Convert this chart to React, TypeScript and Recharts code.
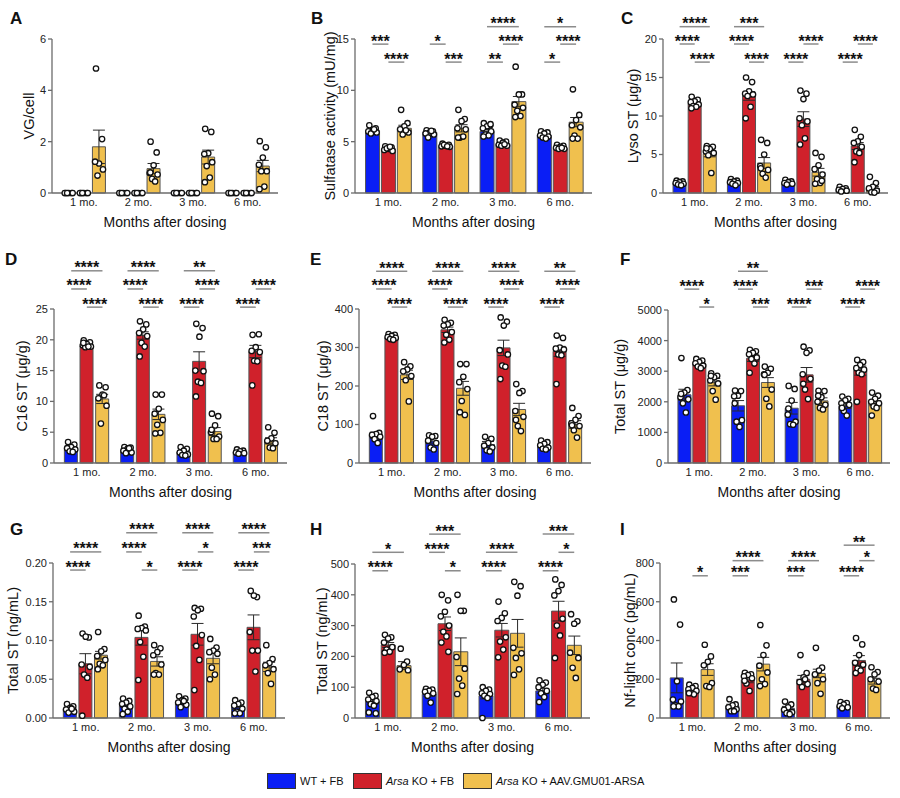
import React from "react";
import {
  ComposedChart,
  Bar,
  Cell,
  ErrorBar,
  Scatter,
  XAxis,
  YAxis,
  ReferenceLine,
} from "recharts";

const FONT = '"Liberation Sans", Arial, Helvetica, sans-serif';

const MONTHS = ["1 mo.", "2 mo.", "3 mo.", "6 mo."];
const COLORS = ["#0a1ef5", "#d0212b", "#f0c04e"];

// x layout (axis units): group centers, bars at center -1, 0, +1
const GROUP_X = [0, 3.6, 7.2, 10.8];
const X_DOMAIN = [-2.1, 12.8];
const JITTER = [-0.2, 0.2, 0, -0.26, 0.26, -0.1, 0.1, -0.22, 0.22];

// ---------- A: VG/cell ----------
const A_MEAN = [[0, 0, 1.8], [0, 0, 0.95], [0, 0, 1.4], [0, 0, 1.05]];
const A_SEM = [[0, 0, 0.65], [0, 0, 0.2], [0, 0, 0.27], [0, 0, 0.22]];
const A_DOTS = [
  [[0, 0, 0, 0, 0, 0], [0, 0, 0, 0, 0, 0], [4.85, 2.1, 1.15, 1.22, 0.92, 0.68]],
  [[0, 0, 0, 0, 0, 0], [0, 0, 0, 0, 0, 0], [2.0, 1.58, 1.08, 0.78, 0.72, 0.55, 0.45, 0.8]],
  [[0, 0, 0, 0, 0, 0], [0, 0, 0, 0, 0, 0], [2.5, 2.38, 1.55, 1.52, 1.2, 1.05, 0.6, 0.42]],
  [[0, 0, 0, 0, 0, 0], [0, 0, 0, 0, 0, 0], [2.02, 1.78, 1.38, 1.1, 0.85, 0.85, 0.25, 0.15]],
];
const A_TICKS = [0, 2, 4, 6];

// ---------- B: sulfatase activity ----------
const B_MEAN = [[6.05, 4.3, 6.3], [5.9, 4.6, 6.3], [6.0, 4.8, 8.9], [5.6, 4.35, 6.9]];
const B_SEM = [[0.12, 0.07, 0.3], [0.09, 0.05, 0.35], [0.2, 0.08, 0.5], [0.1, 0.06, 0.45]];
const B_DOTS = [
  [[6.6, 6.3, 6.1, 6.0, 5.9, 5.8, 6.2], [4.55, 4.45, 4.3, 4.2, 4.1, 4.35, 4.5], [8.1, 6.8, 6.5, 6.2, 5.9, 5.7, 6.1]],
  [[6.1, 6.0, 5.9, 5.8, 5.7, 5.4, 6.05], [4.8, 4.7, 4.6, 4.55, 4.5, 4.7, 4.55], [8.1, 7.2, 7.0, 6.3, 6.2, 5.4, 5.5, 5.4]],
  [[6.8, 6.6, 6.5, 6.3, 6.0, 5.7, 5.6, 5.5, 6.7], [5.1, 5.0, 4.9, 4.7, 4.6, 4.6, 4.75], [12.3, 9.6, 9.6, 8.6, 8.3, 8.0, 7.5, 7.4]],
  [[6.0, 5.9, 5.8, 5.6, 5.5, 5.4, 5.3], [4.7, 4.6, 4.5, 4.4, 4.3, 4.3, 4.4], [10.1, 7.6, 7.1, 6.6, 6.4, 5.6, 5.3, 5.3]],
];
const B_TICKS = [0, 5, 10, 15];
const B_LEVELS = [16.2, 14.5, 12.75];
const B_STARS = [
  [0, 0, 1, 1, "***"], [0, 1, 2, 2, "****"],
  [1, 0, 1, 1, "*"], [1, 1, 2, 2, "***"],
  [2, 0, 2, 0, "****"], [2, 1, 2, 1, "****"], [2, 0, 1, 2, "**"],
  [3, 0, 2, 0, "*"], [3, 1, 2, 1, "****"], [3, 0, 1, 2, "*"],
];

// ---------- C: Lyso ST ----------
const C_MEAN = [[1.3, 11.6, 5.1], [1.4, 12.6, 3.9], [1.3, 9.6, 2.7], [0.5, 6.1, 0.6]];
const C_SEM = [[0.1, 0.2, 0.4], [0.1, 0.55, 0.7], [0.08, 0.95, 0.5], [0.07, 0.45, 0.25]];
const C_DOTS = [
  [[1.6, 1.5, 1.4, 1.3, 1.2, 1.1, 1.0], [12.5, 12.1, 11.9, 11.8, 11.5, 11.3, 11.2, 11.0], [6.1, 6.0, 5.7, 5.4, 5.2, 4.9, 2.6, 5.8]],
  [[1.8, 1.6, 1.5, 1.4, 1.3, 1.2, 1.0], [15.0, 14.4, 13.2, 12.9, 12.8, 12.6, 11.2, 9.7], [6.9, 6.5, 5.0, 3.5, 3.0, 2.5, 2.0, 3.2]],
  [[1.7, 1.5, 1.4, 1.3, 1.2, 1.1], [13.3, 12.9, 12.2, 9.7, 9.3, 8.8, 7.1, 6.3], [5.2, 4.7, 3.6, 3.1, 2.4, 1.8, 1.3, 1.2, 1.6]],
  [[0.8, 0.6, 0.5, 0.4, 0.3, 0.2], [8.2, 7.3, 6.7, 6.5, 6.0, 5.4, 5.2, 4.0], [2.1, 1.3, 0.8, 0.6, 0.3, 0.1, 0.05]],
];
const C_TICKS = [0, 5, 10, 15, 20];
const C_LEVELS = [21.6, 19.35, 17.0];
const C_STARS = [
  [0, 0, 2, 0, "****"], [0, 0, 1, 1, "****"], [0, 1, 2, 2, "****"],
  [1, 0, 2, 0, "***"], [1, 0, 1, 1, "****"], [1, 1, 2, 2, "****"],
  [2, 1, 2, 1, "****"], [2, 0, 1, 2, "****"],
  [3, 1, 2, 1, "****"], [3, 0, 1, 2, "****"],
];

// ---------- D: C16 ST ----------
const D_MEAN = [[2.5, 19.0, 10.4], [2.1, 20.7, 7.9], [1.8, 16.5, 5.1], [1.8, 18.1, 3.6]];
const D_SEM = [[0.2, 0.15, 0.75], [0.15, 0.6, 0.85], [0.2, 1.55, 0.65], [0.1, 1.0, 0.5]];
const D_DOTS = [
  [[3.4, 3.0, 2.6, 2.4, 2.2, 1.9, 1.8], [19.9, 19.6, 19.3, 19.1, 18.9, 18.8, 18.9, 19.5], [12.6, 12.3, 11.1, 10.5, 9.3, 6.4, 11.0]],
  [[2.6, 2.5, 2.3, 2.0, 1.7, 1.6, 2.4], [23.0, 22.5, 21.7, 21.1, 20.6, 19.5, 18.9, 17.3], [11.1, 11.1, 8.8, 8.0, 7.0, 6.2, 4.9, 4.8]],
  [[2.6, 2.3, 2.0, 1.7, 1.4, 1.3, 1.2], [22.6, 21.9, 20.5, 15.0, 14.9, 13.2, 13.0, 10.8], [8.0, 7.6, 6.1, 5.0, 4.3, 3.9, 3.9, 5.4]],
  [[2.2, 2.0, 1.9, 1.7, 1.6, 1.5], [20.8, 20.9, 18.8, 18.2, 18.0, 16.6, 16.5, 12.6], [5.8, 4.9, 4.0, 3.6, 3.2, 2.5, 2.4]],
];
const D_TICKS = [0, 5, 10, 15, 20, 25];
const D_LEVELS = [31.2, 28.25, 25.3];
const D_STARS = [
  [0, 0, 2, 0, "****"], [0, 0, 1, 1, "****"], [0, 1, 2, 2, "****"],
  [1, 0, 2, 0, "****"], [1, 0, 1, 1, "****"], [1, 1, 2, 2, "****"],
  [2, 0, 2, 0, "**"], [2, 1, 2, 1, "****"], [2, 0, 1, 2, "****"],
  [3, 1, 2, 1, "****"], [3, 0, 1, 2, "****"],
];

// ---------- E: C18 ST ----------
const E_MEAN = [[72, 326, 229], [57, 346, 194], [48, 299, 139], [44, 290, 100]];
const E_SEM = [[8, 3, 12], [7, 7, 18], [8, 20, 16], [4, 13, 10]];
const E_DOTS = [
  [[122, 78, 75, 73, 68, 62, 52], [335, 333, 330, 327, 325, 322, 320], [262, 251, 243, 238, 226, 215, 160]],
  [[72, 70, 68, 58, 52, 40, 35], [372, 364, 360, 357, 340, 333, 320, 313], [257, 257, 224, 210, 192, 161, 125, 132]],
  [[68, 63, 52, 45, 40, 33, 30], [378, 367, 357, 293, 282, 253, 250, 218], [205, 187, 182, 135, 120, 96, 83, 112]],
  [[58, 54, 50, 46, 40, 37, 35], [331, 325, 300, 297, 295, 282, 280, 205], [143, 122, 112, 103, 96, 85, 66, 98]],
];
const E_TICKS = [0, 100, 200, 300, 400];
const E_LEVELS = [498, 452, 405];
const E_STARS = [
  [0, 0, 2, 0, "****"], [0, 0, 1, 1, "****"], [0, 1, 2, 2, "****"],
  [1, 0, 2, 0, "****"], [1, 0, 1, 1, "****"], [1, 1, 2, 2, "****"],
  [2, 0, 2, 0, "****"], [2, 1, 2, 1, "****"], [2, 0, 1, 2, "****"],
  [3, 0, 2, 0, "**"], [3, 1, 2, 1, "****"], [3, 0, 1, 2, "****"],
];

// ---------- F: total ST tissue ----------
const F_MEAN = [[2230, 3240, 2640], [1870, 3420, 2630], [1790, 2880, 2030], [1860, 3020, 1950]];
const F_SEM = [[180, 60, 120], [170, 100, 160], [190, 240, 100], [80, 150, 80]];
const F_DOTS = [
  [[3430, 2380, 2300, 2150, 2080, 1950, 1650, 2260], [3400, 3350, 3300, 3260, 3180, 3150, 3100], [2930, 2850, 2800, 2700, 2600, 2350, 2070, 2850]],
  [[2370, 2350, 2200, 2180, 1400, 1350, 1180, 1950], [3700, 3650, 3600, 3550, 3450, 3400, 3250, 2950], [3150, 3080, 2950, 2900, 2400, 2100, 1850, 2880]],
  [[2520, 2420, 2040, 1580, 1350, 1270, 1250, 1780], [3800, 3680, 3600, 2900, 2750, 2400, 2090, 2590], [2360, 2350, 2150, 2000, 1900, 1800, 1750, 2200]],
  [[2170, 2100, 2050, 1950, 1900, 1700, 1550, 1800], [3370, 3300, 3200, 3100, 3050, 2950, 2900, 2000], [2300, 2200, 2100, 2000, 1950, 1850, 1800, 1550]],
];
const F_TICKS = [0, 1000, 2000, 3000, 4000, 5000];
const F_LEVELS = [6266, 5682, 5097];
const F_STARS = [
  [0, 0, 1, 1, "****"], [0, 1, 2, 2, "*"],
  [1, 0, 2, 0, "**"], [1, 0, 1, 1, "****"], [1, 1, 2, 2, "***"],
  [2, 1, 2, 1, "***"], [2, 0, 1, 2, "****"],
  [3, 1, 2, 1, "****"], [3, 0, 1, 2, "****"],
];

// ---------- G: total ST ng/mL ----------
const G_MEAN = [[0.012, 0.07, 0.081], [0.016, 0.104, 0.073], [0.02, 0.108, 0.077], [0.014, 0.117, 0.066]];
const G_SEM = [[0.002, 0.013, 0.005], [0.002, 0.01, 0.006], [0.002, 0.014, 0.007], [0.003, 0.016, 0.006]];
const G_DOTS = [
  [[0.018, 0.015, 0.013, 0.011, 0.008, 0.007, 0.012], [0.109, 0.104, 0.105, 0.069, 0.066, 0.056, 0.052, 0.003], [0.111, 0.089, 0.086, 0.08, 0.075, 0.07, 0.068, 0.063]],
  [[0.025, 0.022, 0.02, 0.018, 0.015, 0.012, 0.008, 0.005], [0.132, 0.118, 0.116, 0.115, 0.113, 0.098, 0.079, 0.049], [0.094, 0.09, 0.085, 0.081, 0.069, 0.058, 0.056, 0.056]],
  [[0.028, 0.025, 0.023, 0.02, 0.017, 0.014, 0.022], [0.142, 0.141, 0.139, 0.131, 0.107, 0.093, 0.075, 0.036], [0.102, 0.091, 0.087, 0.085, 0.083, 0.065, 0.056, 0.05]],
  [[0.023, 0.02, 0.018, 0.016, 0.012, 0.008, 0.006, 0.006], [0.164, 0.156, 0.158, 0.111, 0.087, 0.087, 0.06], [0.094, 0.076, 0.071, 0.068, 0.063, 0.058, 0.044]],
];
const G_TICKS = [0, 0.05, 0.1, 0.15, 0.2];
const G_LEVELS = [0.239, 0.2143, 0.1909];
const G_STARS = [
  [0, 0, 2, 1, "****"], [0, 0, 1, 2, "****"],
  [1, 0, 2, 0, "****"], [1, 0, 1, 1, "****"], [1, 1, 2, 2, "*"],
  [2, 0, 2, 0, "****"], [2, 1, 2, 1, "*"], [2, 0, 1, 2, "****"],
  [3, 0, 2, 0, "****"], [3, 1, 2, 1, "***"], [3, 0, 1, 2, "****"],
];

// ---------- H: total ST ng/mL ----------
const H_MEAN = [[53, 237, 170], [77, 306, 215], [72, 285, 275], [88, 347, 236]];
const H_SEM = [[8, 8, 13], [6, 22, 45], [10, 22, 45], [8, 32, 30]];
const H_DOTS = [
  [[82, 72, 68, 60, 55, 45, 40, 18, 15], [270, 262, 258, 245, 230, 222, 215, 212], [225, 183, 172, 158, 155]],
  [[95, 92, 88, 85, 80, 72, 50], [400, 382, 345, 330, 300, 280, 265, 245, 215], [400, 348, 348, 198, 160, 128, 105, 78]],
  [[100, 92, 88, 80, 78, 72, 65, 0], [378, 340, 325, 315, 262, 248, 222, 197], [442, 428, 397, 228, 210, 195, 158, 140]],
  [[122, 115, 108, 100, 88, 80, 68, 52], [450, 432, 412, 398, 322, 300, 268, 195], [337, 314, 306, 212, 195, 163, 130]],
];
const H_TICKS = [0, 100, 200, 300, 400, 500];
const H_LEVELS = [597, 538, 478];
const H_STARS = [
  [0, 0, 2, 1, "*"], [0, 0, 1, 2, "****"],
  [1, 0, 2, 0, "***"], [1, 0, 1, 1, "****"], [1, 1, 2, 2, "*"],
  [2, 0, 2, 1, "****"], [2, 0, 1, 2, "****"],
  [3, 0, 2, 0, "***"], [3, 1, 2, 1, "*"], [3, 0, 1, 2, "****"],
];

// ---------- I: Nf-light ----------
const I_MEAN = [[207, 140, 250], [63, 197, 278], [50, 200, 230], [63, 297, 190]];
const I_SEM = [[77, 10, 30], [8, 15, 35], [10, 20, 22], [6, 25, 15]];
const I_DOTS = [
  [[612, 482, 190, 95, 85, 65, 60, 60], [172, 165, 155, 148, 140, 130, 122, 128], [378, 318, 290, 272, 180, 165, 160]],
  [[97, 70, 65, 55, 45, 35, 35], [233, 225, 222, 215, 205, 178, 140, 192], [480, 375, 325, 270, 235, 200, 175, 165]],
  [[85, 70, 55, 42, 30, 25, 20], [325, 232, 210, 185, 175, 160, 200], [362, 260, 245, 225, 200, 180, 125]],
  [[82, 77, 70, 62, 55, 50], [413, 380, 325, 285, 275, 255, 245, 232], [262, 237, 225, 200, 188, 152, 145]],
];
const I_TICKS = [0, 200, 400, 600, 800];
const I_LEVELS = [892, 812, 734];
const I_STARS = [
  [0, 1, 2, 2, "*"],
  [1, 0, 2, 1, "****"], [1, 0, 1, 2, "***"],
  [2, 0, 2, 1, "****"], [2, 0, 1, 2, "***"],
  [3, 0, 2, 0, "**"], [3, 1, 2, 1, "*"], [3, 0, 1, 2, "****"],
];

const PANELS = [
  { letter: "A", ylabel: "VG/cell", mean: A_MEAN, sem: A_SEM, dots: A_DOTS, ticks: A_TICKS, levels: [], stars: [],
    x0: 0, y0: 0, axisX: 52, top: 39, bottom: 193, right: 278, labelX: 29, lx: 10, ly: 24 },
  { letter: "B", ylabel: "Sulfatase activity (mU/mg)", mean: B_MEAN, sem: B_SEM, dots: B_DOTS, ticks: B_TICKS, levels: B_LEVELS, stars: B_STARS,
    x0: 300, y0: 0, axisX: 355, top: 39, bottom: 193, right: 592, labelX: 330, lx: 311, ly: 24 },
  { letter: "C", ylabel: "Lyso ST (\u03bcg/g)", mean: C_MEAN, sem: C_SEM, dots: C_DOTS, ticks: C_TICKS, levels: C_LEVELS, stars: C_STARS,
    x0: 600, y0: 0, axisX: 663, top: 39, bottom: 193, right: 888, labelX: 633, lx: 621, ly: 24 },
  { letter: "D", ylabel: "C16 ST (\u03bcg/g)", mean: D_MEAN, sem: D_SEM, dots: D_DOTS, ticks: D_TICKS, levels: D_LEVELS, stars: D_STARS,
    x0: 0, y0: 250, axisX: 54, top: 309, bottom: 463, right: 287, labelX: 22, lx: 5, ly: 265 },
  { letter: "E", ylabel: "C18 ST (\u03bcg/g)", mean: E_MEAN, sem: E_SEM, dots: E_DOTS, ticks: E_TICKS, levels: E_LEVELS, stars: E_STARS,
    x0: 300, y0: 250, axisX: 359, top: 309, bottom: 463, right: 591, labelX: 323, lx: 310, ly: 265 },
  { letter: "F", ylabel: "Total ST (\u03bcg/g)", mean: F_MEAN, sem: F_SEM, dots: F_DOTS, ticks: F_TICKS, levels: F_LEVELS, stars: F_STARS,
    x0: 600, y0: 250, axisX: 668, top: 310, bottom: 463, right: 890, labelX: 620, lx: 620, ly: 265 },
  { letter: "G", ylabel: "Total ST (ng/mL)", mean: G_MEAN, sem: G_SEM, dots: G_DOTS, ticks: G_TICKS, levels: G_LEVELS, stars: G_STARS, fixed: 2,
    x0: 0, y0: 500, axisX: 53, top: 563, bottom: 718, right: 285, labelX: 13, lx: 10, ly: 535 },
  { letter: "H", ylabel: "Total ST (ng/mL)", mean: H_MEAN, sem: H_SEM, dots: H_DOTS, ticks: H_TICKS, levels: H_LEVELS, stars: H_STARS,
    x0: 300, y0: 500, axisX: 355, top: 564, bottom: 718, right: 590, labelX: 322, lx: 310, ly: 535 },
  { letter: "I", ylabel: "Nf-light conc (pg/mL)", mean: I_MEAN, sem: I_SEM, dots: I_DOTS, ticks: I_TICKS, levels: I_LEVELS, stars: I_STARS,
    x0: 600, y0: 500, axisX: 660, top: 563, bottom: 718, right: 890, labelX: 630, lx: 620, ly: 535 },
];

function Stars(props: any) {
  const vb = props.viewBox || { x: 0, y: 0, width: 0 };
  return (
    <text
      x={vb.x + vb.width / 2}
      y={vb.y + 2.5}
      textAnchor="middle"
      fontSize={16}
      fontWeight="bold"
      fill="#111"
      fontFamily={FONT}
    >
      {props.stars}
    </text>
  );
}

const Dot = (p: any) => (
  <circle cx={p.cx} cy={p.cy} r={2.7} fill="#fff" stroke="#111" strokeWidth={1.3} />
);

function Panel({ cfg }: { cfg: any }) {
  const bars: any[] = [];
  const dots: any[] = [];
  cfg.mean.forEach((row: number[], m: number) => {
    row.forEach((v: number, g: number) => {
      const x = GROUP_X[m] + g - 1;
      bars.push({ x, y: v, err: cfg.sem[m][g], fill: COLORS[g] });
      cfg.dots[m][g].forEach((d: number, j: number) => {
        dots.push({ x: x + JITTER[j % JITTER.length], y: d });
      });
    });
  });

  const width = cfg.right - cfg.x0 + 6;
  const height = cfg.bottom - cfg.y0 + 42;
  const plotW = cfg.right - cfg.axisX;
  const barSize = Math.round((plotW / (X_DOMAIN[1] - X_DOMAIN[0])) * 0.86);
  const yMax = cfg.ticks[cfg.ticks.length - 1];

  return (
    <div style={{ position: "absolute", left: cfg.x0, top: cfg.y0 }}>
      <ComposedChart
        width={width}
        height={height}
        data={bars}
        margin={{ top: cfg.top - cfg.y0, right: 6, bottom: 2, left: 0 }}
      >
        <XAxis
          type="number"
          dataKey="x"
          domain={X_DOMAIN}
          ticks={GROUP_X}
          tickFormatter={(_v: any, i: number) => MONTHS[i]}
          interval={0}
          tickLine={false}
          tickSize={4}
          tickMargin={1}
          axisLine={{ stroke: "#6b6b6b", strokeWidth: 1.3 }}
          tick={{ fontSize: 11, fill: "#222", fontFamily: FONT }}
          height={40}
          label={{
            value: "Months after dosing",
            position: "insideBottom",
            offset: 6,
            style: { fontSize: 14, fill: "#111", fontFamily: FONT },
          }}
        />
        <XAxis xAxisId="dots" type="number" dataKey="x" domain={X_DOMAIN} hide />
        <YAxis
          type="number"
          domain={[0, yMax]}
          ticks={cfg.ticks}
          interval={0}
          width={cfg.axisX - cfg.x0}
          tickSize={4}
          tickMargin={2}
          tickFormatter={(v: number) => (cfg.fixed ? v.toFixed(cfg.fixed) : String(v))}
          axisLine={{ stroke: "#6b6b6b", strokeWidth: 1.3 }}
          tickLine={{ stroke: "#6b6b6b", strokeWidth: 1.3 }}
          tick={{ fontSize: 11, fill: "#222", fontFamily: FONT }}
          label={{
            value: cfg.ylabel,
            angle: -90,
            position: "insideLeft",
            offset: cfg.labelX - cfg.x0,
            style: { textAnchor: "middle", fontSize: 14.5, fill: "#111", fontFamily: FONT },
          }}
        />
        <Bar dataKey="y" barSize={barSize} isAnimationActive={false} stroke="#555" strokeWidth={1}>
          {bars.map((b, i) => (
            <Cell key={i} fill={b.fill} />
          ))}
          <ErrorBar dataKey="err" width={6} stroke="#2a2a2a" strokeWidth={1} direction="y" />
        </Bar>
        <Scatter xAxisId="dots" data={dots} dataKey="y" isAnimationActive={false} shape={Dot} />
        {cfg.stars.map((s: any[], i: number) => {
          const [m, g1, g2, lvl, txt] = s;
          const y = cfg.levels[lvl];
          return (
            <ReferenceLine
              key={i}
              segment={[
                { x: GROUP_X[m] + g1 - 1, y },
                { x: GROUP_X[m] + g2 - 1, y },
              ]}
              ifOverflow="visible"
              stroke="#8c8c8c"
              strokeWidth={1.5}
              label={<Stars stars={txt} />}
            />
          );
        })}
      </ComposedChart>
    </div>
  );
}

const LEGEND = [
  { name: "WT + FB", italic: "", box: 267, text: 300 },
  { name: " KO + FB", italic: "Arsa", box: 353, text: 386 },
  { name: " KO + AAV.GMU01-ARSA", italic: "Arsa", box: 463, text: 496 },
];

export default function App() {
  return (
    <div
      style={{
        position: "relative",
        width: 900,
        height: 798,
        background: "#fff",
        fontFamily: FONT,
        overflow: "hidden",
      }}
    >
      <style>{"body{margin:0}"}</style>
      {PANELS.map((p) => (
        <Panel key={p.letter} cfg={p} />
      ))}
      {PANELS.map((p) => (
        <div
          key={"l" + p.letter}
          style={{
            position: "absolute",
            left: p.lx,
            top: p.ly - 14,
            fontSize: 17,
            fontWeight: "bold",
            lineHeight: "17px",
            color: "#111",
          }}
        >
          {p.letter}
        </div>
      ))}
      {LEGEND.map((l, i) => (
        <React.Fragment key={i}>
          <div
            style={{
              position: "absolute",
              left: l.box,
              top: 773,
              width: 27,
              height: 14,
              background: COLORS[i],
              border: "1px solid #333",
            }}
          />
          <div
            style={{
              position: "absolute",
              left: l.text,
              top: 773,
              fontSize: 11,
              lineHeight: "16px",
              color: "#111",
              whiteSpace: "nowrap",
            }}
          >
            {l.italic ? <i>{l.italic}</i> : null}
            {l.name}
          </div>
        </React.Fragment>
      ))}
    </div>
  );
}
